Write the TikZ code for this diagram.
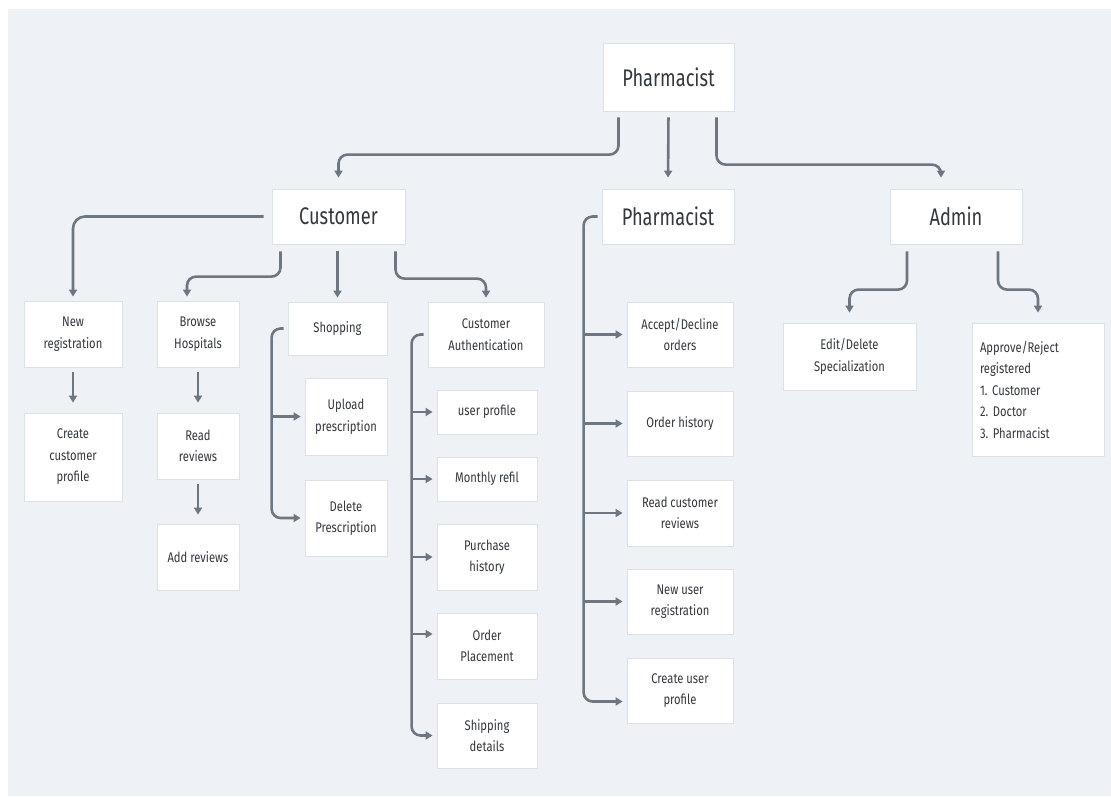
\documentclass[tikz,border=0pt]{standalone}
\usepackage{fontspec}
\setmainfont{Fira Sans}[FakeStretch=0.8]
\newfontfamily\bigfont{Fira Sans}[FakeStretch=0.76]
\usetikzlibrary{arrows.meta,shadows}
\definecolor{bg}{HTML}{EEF2F6}
\definecolor{bd}{HTML}{DCE1E7}
\definecolor{ln}{HTML}{6E7681}
\definecolor{tx}{HTML}{33383F}
\frenchspacing
\begin{document}
\begin{tikzpicture}[x=1pt,y=-1pt,
 box/.style={draw=bd, line width=0.8pt, fill=white, text=tx, align=center, inner sep=0pt,
   font=\fontsize{14}{21.5}\selectfont,
   drop shadow={opacity=0.10, shadow xshift=0.8pt, shadow yshift=-0.8pt, fill=black}},
 bigbox/.style={box, font=\bigfont\fontsize{24}{26}\selectfont},
 wh/.style 2 args={minimum width=#1pt, minimum height=#2pt},
 conn/.style={draw=ln, line width=2.6pt, rounded corners=9pt,
   -{Triangle[width=8pt,length=7pt]}, shorten <=7pt, shorten >=4pt},
]
\useasboundingbox (0,0) rectangle (1111,796);
\fill[bg] (8,9) rectangle (1111,796);

% level 0 / 1
\node[bigbox, wh={131}{68}] (top) at (668.5,77) {Pharmacist};
\node[bigbox, wh={133}{55}] (cust) at (338.5,216.5) {Customer};
\node[bigbox, wh={132}{55}] (ph2) at (668,216.5) {Pharmacist};
\node[bigbox, wh={132}{55}] (admin) at (956,216.5) {Admin};

% customer children
\node[box, wh={98}{66}] (newreg) at (73,334) {New\\registration};
\node[box, wh={98}{88}] (create) at (73,457) {Create\\customer\\profile};
\node[box, wh={82}{66}] (browse) at (198,334) {Browse\\Hospitals};
\node[box, wh={82}{66}] (read) at (198,446) {Read\\reviews};
\node[box, wh={82}{66}] (add) at (198,557) {Add reviews};
\node[box, wh={99}{53}] (shop) at (337.5,328.5) {Shopping};
\node[box, wh={82}{77}] (upload) at (346,416.5) {Upload\\prescription};
\node[box, wh={82}{76}] (delete) at (346,518) {Delete\\Prescription};
\node[box, wh={116}{65}] (ca) at (486,334.5) {Customer\\Authentication};
\node[box, wh={100}{44}] (up) at (487,412) {user profile};
\node[box, wh={100}{44}] (mr) at (487,479) {Monthly refil};
\node[box, wh={100}{66}] (pur) at (487,557) {Purchase\\history};
\node[box, wh={100}{66}] (op) at (487,646) {Order\\Placement};
\node[box, wh={100}{65}] (sd) at (487,735.5) {Shipping\\details};

% pharmacist children
\node[box, wh={106}{65}] (ad) at (680,334.5) {Accept/Decline\\orders};
\node[box, wh={106}{65}] (oh) at (680,423.5) {Order history};
\node[box, wh={106}{66}] (rcr) at (680,513) {Read customer\\reviews};
\node[box, wh={106}{65}] (nur) at (680,601.5) {New user\\registration};
\node[box, wh={106}{65}] (cup) at (680,690.5) {Create user\\profile};

% admin children
\node[box, wh={133}{67}] (eds) at (849.5,356.5) {Edit/Delete\\Specialization};
\node[box, wh={132}{133}, align=left, text width=116pt] (apr) at (1038,389.5)
  {Approve/Reject\\registered\\1. Customer\\2. Doctor\\3. Pharmacist};

% top connectors
\draw[conn, shorten <=6pt, shorten >=11pt] ([xshift=-50pt]top.south) |- ([yshift=34pt]cust.north) -- (cust.north);
\draw[conn, shorten <=6pt, shorten >=11pt] (top.south) -- (ph2.north);
\draw[conn, shorten <=6pt, shorten >=11pt] ([xshift=48pt]top.south) |- ([xshift=-15pt,yshift=24pt]admin.north) -- ([xshift=-15pt]admin.north);

% customer connectors
\draw[conn, rounded corners=12pt, shorten <=8pt] (cust.west) -| (newreg.north);
\draw[conn] ([xshift=-58pt]cust.south) |- ([xshift=-11pt,yshift=24pt]browse.north) -- ([xshift=-11pt]browse.north);
\draw[conn] (shop.north |- cust.south) -- (shop.north);
\draw[conn] ([xshift=57pt]cust.south) |- ([yshift=23pt]ca.north) -- (ca.north);

\draw[conn, shorten <=5pt, shorten >=10pt] (newreg.south) -- (create.north);
\draw[conn, shorten <=5pt, shorten >=10pt] (browse.south) -- (read.north);
\draw[conn, shorten <=5pt, shorten >=9pt] (read.south) -- (add.north);

% shopping bracket
\draw[conn, shorten <=4pt] (shop.west) -- ([xshift=-16pt]shop.west) |- (delete.west);
\draw[conn, shorten <=0pt] ([xshift=-33pt]upload.west) -- (upload.west);

% customer authentication bracket
\draw[conn, shorten <=4pt] (ca.west) -- ([xshift=-16pt]ca.west) |- (sd.west);
\draw[conn, shorten <=0pt] ([xshift=-25pt]up.west) -- (up.west);
\draw[conn, shorten <=0pt] ([xshift=-25pt]mr.west) -- (mr.west);
\draw[conn, shorten <=0pt] ([xshift=-25pt]pur.west) -- (pur.west);
\draw[conn, shorten <=0pt] ([xshift=-25pt,yshift=12pt]op.west) -- ([yshift=12pt]op.west);

% pharmacist bracket
\draw[conn, shorten <=4pt] (ph2.west) -- ([xshift=-18pt]ph2.west) |- ([yshift=-11pt]cup.west);
\draw[conn, shorten <=0pt] ([xshift=-43pt]ad.west) -- (ad.west);
\draw[conn, shorten <=0pt] ([xshift=-43pt]oh.west) -- (oh.west);
\draw[conn, shorten <=0pt] ([xshift=-43pt]rcr.west) -- (rcr.west);
\draw[conn, shorten <=0pt] ([xshift=-43pt]nur.west) -- (nur.west);

% admin connectors
\draw[conn, shorten >=10pt] ([xshift=-49pt]admin.south) |- ([yshift=33pt]eds.north) -- (eds.north);
\draw[conn, shorten >=10pt] ([xshift=42pt]admin.south) |- ([yshift=33pt]apr.north) -- (apr.north);
\end{tikzpicture}
\end{document}
